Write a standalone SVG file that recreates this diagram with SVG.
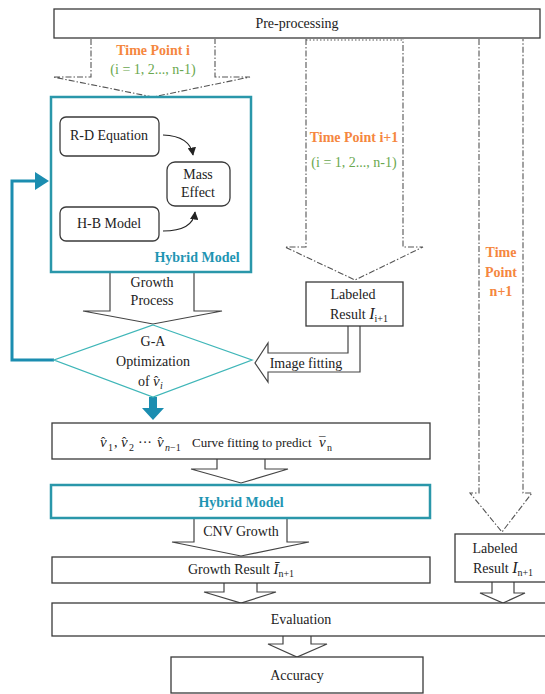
<svg xmlns="http://www.w3.org/2000/svg" width="545" height="694" viewBox="0 0 545 694">
<defs>
<style>
.box{fill:#fff;stroke:#3a3a3a;stroke-width:1.3}
.rbox{fill:#fff;stroke:#3a3a3a;stroke-width:1.3}
.hyb{fill:none;stroke:#2a97aa;stroke-width:2.5}
.t{font-family:"Liberation Serif","Times New Roman",serif;font-size:14px;fill:#222;text-anchor:middle}
.s{font-family:"Liberation Serif","Times New Roman",serif;font-size:14px;fill:#222}
.nu{font-family:"Liberation Serif","Times New Roman",serif;font-size:15px;font-style:italic;fill:#222}
.hat{font-family:"Liberation Serif","Times New Roman",serif;font-size:13px;fill:#222}
.hl{font-family:"Liberation Serif","Times New Roman",serif;font-size:14px;font-weight:bold;fill:#1f95b3;text-anchor:middle}
.or{font-family:"Liberation Serif","Times New Roman",serif;font-size:14px;font-weight:bold;fill:#f5873f;text-anchor:middle}
.gr{font-family:"Liberation Serif","Times New Roman",serif;font-size:14px;fill:#6aa84f;text-anchor:middle}
.it{font-style:italic}
.sub{font-size:10px}
.dd{fill:none;stroke:#555;stroke-width:1.1;stroke-dasharray:6 2 1.5 2}
.blk{fill:#fff;stroke:#444;stroke-width:1.2;stroke-linejoin:miter}
</style>
<marker id="ah" viewBox="0 0 10 10" refX="9" refY="5" markerWidth="7" markerHeight="7" orient="auto">
<path d="M0,0 L10,5 L0,10 z" fill="#222"/>
</marker>
</defs>

<g id="connectors">
<path class="dd" d="M91,39 V77 H53 L153,97 L250,77 H215 V39"/>
<path class="dd" d="M306,39 V247 H285 L355,280 L423,247 H403 V39"/>
<path d="M306,40 H403" fill="none" stroke="#555" stroke-width="1.2" stroke-dasharray="1.5 2"/>
<path class="dd" d="M479,39 V493 H470 L502,532 L532,493 H523 V39"/>
<path class="blk" d="M110,272 V311 H83 L153,324 L222,311 H194 V272"/>
<path class="blk" d="M348,326 V353 H268 V343 L255,363 L268,382 V372 H360 V326"/>
<path class="blk" d="M217,459 V469 H191 L241,483 L288,469 H265 V459"/>
<path class="blk" d="M194,518 V542 H172 L241,556 L309,542 H287 V518"/>
<path class="blk" d="M224,583 V592 H204 L241,603 L276,592 H257 V583"/>
<path class="blk" d="M283,636 V644 H268 L297,657 L327,644 H311 V636"/>
<path class="blk" d="M492,582 V593 H480 L503,603 L525,593 H514 V582"/>
<path d="M163,135 Q190,136 193,155" fill="none" stroke="#222" stroke-width="1.2" marker-end="url(#ah)"/>
<path d="M163,231 Q193,231 195,212" fill="none" stroke="#222" stroke-width="1.2" marker-end="url(#ah)"/>
<path d="M54,360 H12 V181 H37" fill="none" stroke="#1b8db0" stroke-width="3"/>
<path d="M35,172 L49,181 L35,190 z" fill="#1b8db0"/>
<path d="M149,397 V408 H142 L153,420 L164,408 H157 V397 z" fill="#1b8db0"/>
</g>

<g id="preprocessing">
<rect class="box" x="54" y="9" width="486" height="29"/>
<text class="t" x="297" y="28">Pre-processing</text>
</g>

<g id="timepoint-i">
<text class="or" x="153" y="55">Time Point i</text>
<text class="gr" x="153" y="74">(i = 1, 2..., n-1)</text>
</g>

<g id="timepoint-i1">
<text class="or" x="354" y="142">Time Point i+1</text>
<text class="gr" x="354" y="167">(i = 1, 2..., n-1)</text>
</g>

<g id="timepoint-n1">
<text class="or" x="501" y="257">Time</text>
<text class="or" x="501" y="277">Point</text>
<text class="or" x="501" y="296">n+1</text>
</g>

<g id="hybrid-model">
<rect class="hyb" x="51" y="97" width="200" height="175"/>
<text class="hl" x="197" y="262">Hybrid Model</text>
</g>

<g id="rd-equation">
<rect class="rbox" x="60" y="117" width="99" height="39" rx="6"/>
<text class="t" x="109" y="140">R-D Equation</text>
</g>

<g id="hb-model">
<rect class="rbox" x="60" y="207" width="99" height="34" rx="6"/>
<text class="t" x="109" y="228">H-B Model</text>
</g>

<g id="mass-effect">
<rect class="rbox" x="167" y="162" width="63" height="44" rx="8"/>
<text class="t" x="198" y="179">Mass</text>
<text class="t" x="198" y="197">Effect</text>
</g>

<g id="growth-process-label">
<text class="t" x="152" y="287">Growth</text>
<text class="t" x="152" y="305">Process</text>
</g>

<g id="ga-optimization">
<path d="M153,325 L252,360 L153,397 L54,360 z" fill="#fff" stroke="#3fb6b8" stroke-width="1.3"/>
<text class="t" x="153" y="346">G-A</text>
<text class="t" x="153" y="366">Optimization</text>
<text class="s" x="138" y="386">of</text>
<text class="nu" x="153" y="386">ν</text>
<text class="hat" x="154" y="385">ˆ</text>
<text class="s it sub" x="160" y="389">i</text>
</g>

<g id="labeled-i1">
<rect class="box" x="306" y="282" width="97" height="44"/>
<text class="t" x="353" y="299">Labeled</text>
<text class="t" x="359" y="319">Result <tspan class="it" font-size="16">I</tspan><tspan class="sub" dy="3">i+1</tspan></text>
</g>

<g id="image-fitting-label">
<text class="t" x="306" y="368">Image fitting</text>
</g>

<g id="curve-fitting">
<rect class="box" x="52" y="423" width="378" height="36"/>
<text class="nu" x="100" y="447">ν</text>
<text class="hat" x="101" y="446">ˆ</text>
<text class="s sub" x="108" y="451">1</text>
<text class="s" x="114" y="447">,</text>
<text class="nu" x="121" y="447">ν</text>
<text class="hat" x="122" y="446">ˆ</text>
<text class="s sub" x="129" y="451">2</text>
<text class="s" x="138" y="447">···</text>
<text class="nu" x="157" y="447">ν</text>
<text class="hat" x="158" y="446">ˆ</text>
<text class="s sub" x="165" y="451"><tspan class="it">n</tspan>−1</text>
<text class="s" x="192" y="447" style="font-size:13px">Curve fitting to predict</text>
<text class="nu" x="319" y="447">ν</text>
<text class="hat" x="319" y="446">¯</text>
<text class="s sub" x="327" y="451">n</text>
</g>

<g id="hybrid-model-2">
<rect class="hyb" x="51" y="485" width="379" height="33"/>
<text class="hl" x="241" y="507">Hybrid Model</text>
</g>

<g id="cnv-growth-label">
<text class="t" x="241" y="536">CNV Growth</text>
</g>

<g id="growth-result">
<rect class="box" x="52" y="557" width="378" height="26"/>
<text class="t" x="241" y="574">Growth Result <tspan class="it" font-size="15">Ī</tspan><tspan class="sub" dy="3">n+1</tspan></text>
</g>

<g id="labeled-n1">
<rect class="box" x="455" y="534" width="95" height="48"/>
<text class="t" x="495" y="553">Labeled</text>
<text class="t" x="503" y="573">Result <tspan class="it" font-size="16">I</tspan><tspan class="sub" dy="3">n+1</tspan></text>
</g>

<g id="evaluation">
<rect class="box" x="52" y="603" width="500" height="33"/>
<text class="t" x="301" y="624">Evaluation</text>
</g>

<g id="accuracy">
<rect class="box" x="171" y="657" width="252" height="36"/>
<text class="t" x="297" y="680">Accuracy</text>
</g>
</svg>
